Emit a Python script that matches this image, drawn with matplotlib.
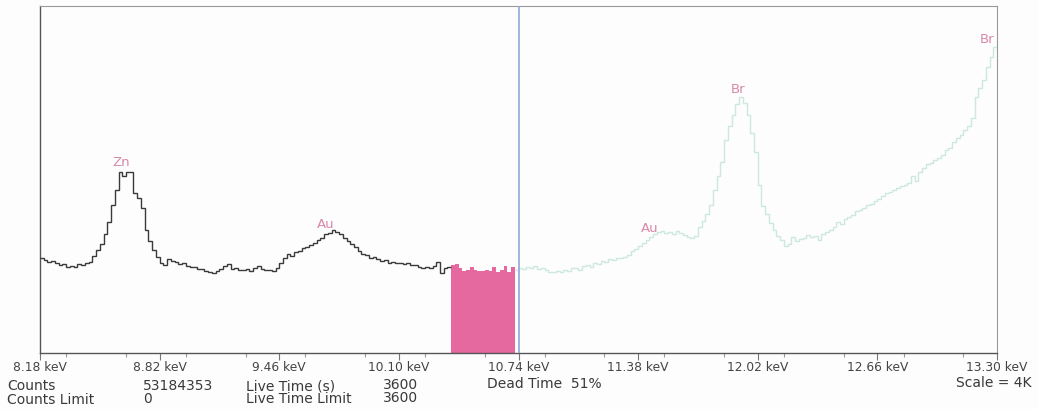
import numpy as np
import matplotlib
matplotlib.use("Agg")
import matplotlib.pyplot as plt
from matplotlib.ticker import MultipleLocator, FixedLocator

plt.rcParams['font.family'] = ['DejaVu Sans']

# ---- data ----
e_start = 8.18
e_end = 13.30
channel_width = 0.02

counts_black = [1095, 1072, 1049, 1061, 1038, 1015, 1026, 992, 1003, 992,
                1026, 1015, 1038, 1049, 1118, 1188, 1257, 1372, 1510, 1706,
                1879, 2087, 2041, 2087, 2087, 1845, 1787, 1672, 1418, 1291,
                1188, 1107, 1038, 1015, 1084, 1061, 1049, 1026, 1038, 1003,
                992, 992, 969, 969, 945, 934, 922, 945, 969, 1003,
                1026, 969, 980, 957, 957, 969, 945, 980, 1003, 969,
                957, 957, 945, 980, 1038, 1095, 1141, 1118, 1165, 1176,
                1211, 1222, 1245, 1268, 1303, 1326, 1372, 1384, 1418, 1395,
                1372, 1326, 1291, 1257, 1222, 1176, 1141, 1130, 1095, 1107,
                1084, 1061, 1072, 1038, 1049, 1038, 1038, 1026, 1038, 1015,
                1015, 992, 980, 992, 980, 1003, 1049, 922, 980, 992]

counts_roi = [1015, 1026, 980, 945, 957, 992, 957, 945, 945, 957,
              945, 992, 934, 957, 1003, 934, 992]

counts_cyan = [957, 980, 969, 992, 980, 1003, 969, 980, 957, 934,
               934, 945, 934, 957, 945, 980, 980, 957, 1003, 1015,
               992, 1038, 1026, 1061, 1049, 1084, 1072, 1095, 1095, 1107,
               1130, 1176, 1199, 1234, 1268, 1303, 1337, 1372, 1395, 1407,
               1384, 1395, 1372, 1407, 1384, 1361, 1337, 1326, 1349, 1453,
               1522, 1603, 1706, 1879, 2041, 2202, 2456, 2617, 2744, 2871,
               2952, 2883, 2744, 2537, 2318, 1937, 1695, 1603, 1499, 1418,
               1349, 1303, 1234, 1257, 1337, 1291, 1314, 1326, 1361, 1337,
               1349, 1303, 1372, 1395, 1418, 1453, 1510, 1487, 1545, 1568,
               1591, 1637, 1649, 1672, 1706, 1718, 1753, 1776, 1810, 1845,
               1856, 1879, 1902, 1926, 1937, 1960, 2041, 1983, 2087, 2133,
               2179, 2191, 2225, 2248, 2283, 2341, 2364, 2433, 2479, 2514,
               2571, 2617, 2710, 2952, 3055, 3148, 3298, 3413, 3528]

tick_values = [8.18, 8.82, 9.46, 10.10, 10.74, 11.38, 12.02, 12.66, 13.30]
tick_labels = ["8.18 keV", "8.82 keV", "9.46 keV", "10.10 keV", "10.74 keV",
               "11.38 keV", "12.02 keV", "12.66 keV", "13.30 keV"]

peak_names = ["Zn", "Au", "Au", "Br", "Br"]
peak_energy = [8.613, 9.710, 11.444, 11.915, 13.245]
peak_label_counts = [2191, 1476, 1430, 3032, 3609]

cursor_energy = 10.745
full_scale = 4000

# ---- figure ----
fig = plt.figure(figsize=(10.38, 4.09), dpi=100, facecolor='#fdfdfd')
ax = fig.add_axes([40 / 1038, (409 - 353) / 409, (997 - 40) / 1038, (353 - 6) / 409])
ax.set_facecolor('#fdfdfd')

n_b = len(counts_black)
n_r = len(counts_roi)
n_c = len(counts_cyan)
edges_all = e_start + channel_width * np.arange(n_b + n_r + n_c + 1)
eb = edges_all[:n_b + 1]
er = edges_all[n_b:n_b + n_r + 1]
ec = edges_all[n_b + n_r:]

ax.stairs(counts_roi, er, fill=True, color='#e5699e', zorder=2)
ax.stairs(counts_black, eb, baseline=None, color='#3a3a3a', lw=1.0, zorder=3)
ax.stairs(counts_cyan, ec, baseline=None, color='#cbe8e1', lw=1.0, zorder=3)
ax.axvline(cursor_energy, color='#92a9d6', lw=1.2, zorder=4)

for name, xe, yc in zip(peak_names, peak_energy, peak_label_counts):
    ax.text(xe, yc, name, color='#d888aa', fontsize=9.5, ha='center', va='center',
            zorder=5, clip_on=True)

ax.set_xlim(e_start, e_end)
ax.set_ylim(0, full_scale)
ax.xaxis.set_major_locator(FixedLocator(tick_values))
ax.set_xticklabels(tick_labels)
ax.xaxis.set_minor_locator(MultipleLocator(0.32))
ax.tick_params(axis='x', which='major', direction='out', length=5, width=0.8,
               color='#777777', labelsize=8.8, labelcolor='#444444', pad=1)
ax.tick_params(axis='x', which='minor', direction='out', length=3, width=0.8,
               color='#999999')
ax.set_yticks([])
for s in ['left', 'bottom']:
    ax.spines[s].set_color('#555555')
    ax.spines[s].set_linewidth(1.0)
for s in ['top', 'right']:
    ax.spines[s].set_color('#999999')
    ax.spines[s].set_linewidth(0.8)

txt = dict(fontsize=10, color='#3a3a3a', va='center')
def fy(py):
    return 1 - py / 409
def fx(px):
    return px / 1038

fig.text(fx(7), fy(386), "Counts", **txt)
fig.text(fx(7), fy(400), "Counts Limit", **txt)
fig.text(fx(143), fy(386), "53184353", **txt)
fig.text(fx(143), fy(399), "0", **txt)
fig.text(fx(246), fy(386), "Live Time (s)", **txt)
fig.text(fx(246), fy(399), "Live Time Limit", **txt)
fig.text(fx(383), fy(385), "3600", **txt)
fig.text(fx(383), fy(398), "3600", **txt)
fig.text(fx(487), fy(384), "Dead Time  51%", **txt)
fig.text(fx(1031), fy(383), "Scale = 4K", ha='right', fontsize=10, color='#3a3a3a', va='center')

fig.savefig("out.png", dpi=100, facecolor=fig.get_facecolor())
